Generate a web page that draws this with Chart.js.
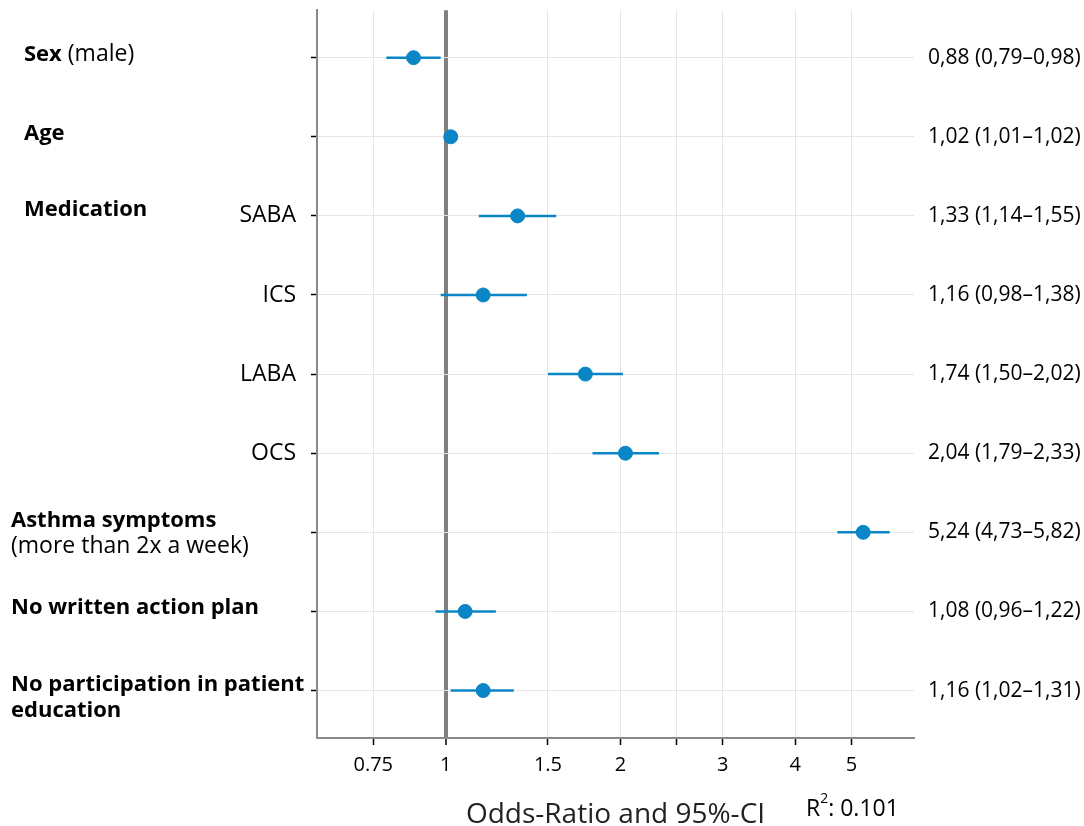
<!DOCTYPE html>
<html lang="en">

<head>
    <meta charset="UTF-8" />
    <title>Odds-Ratio Forest Plot</title>
    <script src="https://cdn.jsdelivr.net/npm/chart.js"></script>
    <style>
        html, body { margin: 0; padding: 0; background: #fff; }
        .grafico-container { position: relative; width: 1084px; height: 826px; }
    </style>
</head>

<body>
    <div class="grafico-container">
        <canvas id="grafico"></canvas>
    </div>

    <script>
        // rows, top to bottom
        const rowBold = ['Sex', 'Age', 'Medication', '', '', '', 'Asthma symptoms', 'No written action plan', 'No participation in patient'];
        const rowExtra = [' (male)', '', '', '', '', '', '(more than 2x a week)', '', 'education'];
        const subLabels = ['', '', 'SABA', 'ICS', 'LABA', 'OCS', '', '', ''];

        const oddsRatio = [0.88, 1.02, 1.33, 1.16, 1.74, 2.04, 5.24, 1.08, 1.16];
        const ciLow = [0.79, 1.01, 1.14, 0.98, 1.50, 1.79, 4.73, 0.96, 1.02];
        const ciHigh = [0.98, 1.02, 1.55, 1.38, 2.02, 2.33, 5.82, 1.22, 1.31];

        const tickValues = [0.75, 1, 1.5, 2, 2.5, 3, 4, 5];
        const tickLabels = ['0.75', '1', '1.5', '2', '', '3', '4', '5'];
        const rSquared = '0.101';

        const azul = '#0a86c6';
        const fonte = "'Open Sans', sans-serif";
        const fmt = v => v.toFixed(2).replace('.', ',');

        const ctx = document.getElementById('grafico').getContext('2d');

        const datasets = oddsRatio.map((_, i) => ({
            type: 'scatter',
            data: [{ x: ciLow[i], y: i }, { x: ciHigh[i], y: i }],
            showLine: true,
            borderColor: azul,
            borderWidth: 2.5,
            pointRadius: 0,
            pointHoverRadius: 0
        }));
        datasets.push({
            type: 'scatter',
            data: oddsRatio.map((v, i) => ({ x: v, y: i })),
            backgroundColor: azul,
            borderColor: azul,
            pointRadius: 7,
            pointHoverRadius: 7
        });

        // labels left and right of the plot
        const rotulos = {
            id: 'rotulos',
            afterDraw(chart) {
                const c = chart.ctx;
                const y = chart.scales.y;
                const area = chart.chartArea;
                const indent = [24, 24, 24, 11, 11, 11, 11, 11, 11];
                const dy = [-3, -3, -6, 0, 0, 0, -12, -4, -6];
                c.save();
                c.fillStyle = '#000';
                c.textBaseline = 'middle';
                oddsRatio.forEach((v, i) => {
                    const py = y.getPixelForValue(i);
                    // left group label
                    c.textAlign = 'left';
                    if (rowBold[i]) {
                        c.font = "bold 22px " + fonte;
                        c.fillText(rowBold[i], indent[i], py + dy[i]);
                        const w = c.measureText(rowBold[i]).width;
                        if (rowExtra[i]) {
                            if (rowExtra[i].startsWith(' ')) {
                                c.font = "23px " + fonte;
                                c.fillText(rowExtra[i], indent[i] + w, py + dy[i]);
                            } else {
                                c.font = (i === 8 ? "bold 22px " : "23px ") + fonte;
                                c.fillText(rowExtra[i], indent[i], py + dy[i] + 26);
                            }
                        }
                    }
                    if (subLabels[i]) {
                        c.font = "23px " + fonte;
                        c.textAlign = 'right';
                        c.fillText(subLabels[i], 296, py);
                    }
                    // right value label
                    c.font = "21px " + fonte;
                    c.textAlign = 'left';
                    c.fillText(`${fmt(v)} (${fmt(ciLow[i])}–${fmt(ciHigh[i])})`, area.right + 14, py);
                });
                // R²
                c.font = "23px " + fonte;
                c.textAlign = 'left';
                c.fillText('R', 806, 809);
                const wr = c.measureText('R').width;
                c.font = "14px " + fonte;
                c.fillText('2', 806 + wr, 799);
                const w2 = c.measureText('2').width;
                c.font = "23px " + fonte;
                c.fillText(': ' + rSquared, 806 + wr + w2, 809);
                c.restore();
            }
        };

        new Chart(ctx, {
            type: 'scatter',
            data: { datasets: datasets },
            options: {
                responsive: true,
                maintainAspectRatio: false,
                animation: false,
                layout: { padding: { top: 8, right: 170, left: 0, bottom: 0 } },
                plugins: {
                    legend: { display: false },
                    tooltip: { enabled: false }
                },
                scales: {
                    x: {
                        type: 'logarithmic',
                        min: 0.602,
                        max: 6.41,
                        afterBuildTicks: s => { s.ticks = tickValues.map(v => ({ value: v })); },
                        afterFit: s => { s.height = 88; },
                        ticks: {
                            autoSkip: false,
                            maxRotation: 0,
                            color: '#000',
                            font: { family: fonte, size: 20 },
                            padding: 8,
                            callback: (v) => tickLabels[tickValues.indexOf(v)] ?? ''
                        },
                        grid: {
                            color: c => c.tick && c.tick.value === 1 ? '#808080' : '#e6e6e6',
                            lineWidth: c => c.tick && c.tick.value === 1 ? 4 : 1,
                            tickColor: '#000',
                            tickWidth: 1.5,
                            tickLength: 7
                        },
                        border: { color: '#8a8a8a', width: 2 },
                        title: {
                            display: true,
                            text: 'Odds-Ratio and 95%-CI',
                            color: '#222',
                            font: { family: fonte, size: 28, lineHeight: 1 },
                            padding: { top: 0, bottom: -3 }
                        }
                    },
                    y: {
                        type: 'linear',
                        reverse: true,
                        min: -0.6,
                        max: 8.6,
                        afterBuildTicks: s => { s.ticks = oddsRatio.map((_, i) => ({ value: i })); },
                        afterFit: s => { s.width = 317; },
                        ticks: { callback: () => '' },
                        grid: {
                            color: '#e6e6e6',
                            tickColor: '#000',
                            tickWidth: 1.5,
                            tickLength: 6
                        },
                        border: { color: '#8a8a8a', width: 2 }
                    }
                }
            },
            plugins: [rotulos]
        });
    </script>
</body>

</html>
